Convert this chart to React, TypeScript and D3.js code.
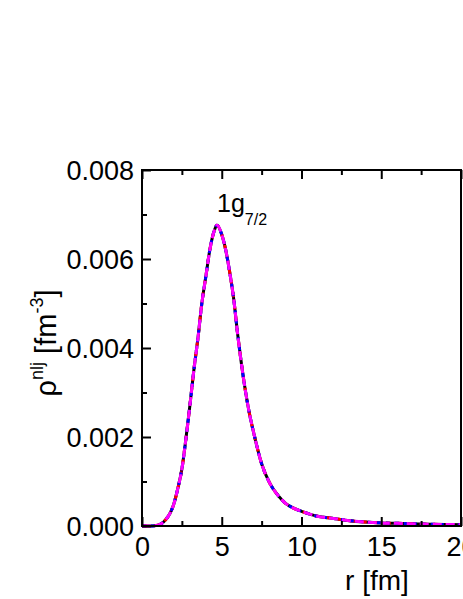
import * as d3 from "d3";
import { useEffect, useRef } from "react";

// radius grid [fm] and density of the 1g7/2 orbital [fm^-3]
const rValues = [
  0, 0.5, 1.0, 1.25, 1.5, 1.75, 2.0, 2.25, 2.5, 2.75, 3.0, 3.25, 3.5, 3.75, 4.0,
  4.25, 4.5, 4.7, 5.0, 5.25, 5.5, 5.75, 6.0, 6.25, 6.5, 6.75, 7.0, 7.5, 8.0, 8.5,
  9.0, 9.5, 10, 11, 12, 13, 14, 15, 16, 18, 20,
];
const rhoValues = [
  0, 0, 0.00002, 0.00006, 0.00015, 0.00028, 0.0005, 0.00085, 0.00128, 0.00195,
  0.0027, 0.0035, 0.0042, 0.005, 0.0056, 0.0062, 0.0066, 0.00676, 0.00655,
  0.0062, 0.0057, 0.0051, 0.0043, 0.0036, 0.003, 0.0025, 0.0021, 0.0014,
  0.00097, 0.0007, 0.00051, 0.0004, 0.00033, 0.00022, 0.00017, 0.00012,
  0.00009, 0.00007, 0.00006, 0.00004, 0.00003,
];

// drawn bottom to top
const seriesNames = ["solid", "red", "blue", "magenta"];
const seriesColors = ["#000000", "#ff0000", "#0000ff", "#ff00ff"];
const seriesDash = ["none", "5,7", "4,5", "9,4"];

const xTicks = [0, 5, 10, 15, 20];
const yTicks = [0, 0.002, 0.004, 0.006, 0.008];

const W = 463;
const H = 599;
const FONT = "Arial, 'Liberation Sans', sans-serif";

export default function App() {
  const svgRef = useRef<SVGSVGElement>(null);

  useEffect(() => {
    const svg = d3.select(svgRef.current);
    svg.selectAll("*").remove();

    const x = d3.scaleLinear().domain([0, 20]).range([142, 461]);
    const y = d3.scaleLinear().domain([0, 0.008]).range([526, 170]);

    const data = rValues.map((r, i) => [r, rhoValues[i]] as [number, number]);
    const line = d3
      .line<[number, number]>()
      .x((d) => x(d[0]))
      .y((d) => y(d[1]))
      .curve(d3.curveMonotoneX);

    seriesNames.forEach((name, i) => {
      svg
        .append("path")
        .datum(data)
        .attr("class", "series-" + name)
        .attr("d", line)
        .attr("fill", "none")
        .attr("stroke", seriesColors[i])
        .attr("stroke-width", 3)
        .attr("stroke-dasharray", seriesDash[i]);
    });

    // minor ticks
    const minorX = d3.range(2.5, 20, 5);
    const minorY = d3.range(0.001, 0.008, 0.002);

    const bottom = svg
      .append("g")
      .attr("transform", "translate(0,526)")
      .call(
        d3.axisBottom(x).tickValues(xTicks).tickSizeInner(-9).tickSizeOuter(0).tickPadding(11)
      );
    svg
      .append("g")
      .attr("transform", "translate(0,526)")
      .call(d3.axisBottom(x).tickValues(minorX).tickSizeInner(-5).tickSizeOuter(0).tickFormat(() => ""));

    svg
      .append("g")
      .attr("transform", "translate(0,170)")
      .call(d3.axisTop(x).tickValues(xTicks).tickSizeInner(-9).tickSizeOuter(0).tickFormat(() => ""));
    svg
      .append("g")
      .attr("transform", "translate(0,170)")
      .call(d3.axisTop(x).tickValues(minorX).tickSizeInner(-5).tickSizeOuter(0).tickFormat(() => ""));

    const left = svg
      .append("g")
      .attr("transform", "translate(142,0)")
      .call(
        d3
          .axisLeft(y)
          .tickValues(yTicks)
          .tickSizeInner(-9)
          .tickSizeOuter(0)
          .tickPadding(8)
          .tickFormat(d3.format(".3f"))
      );
    svg
      .append("g")
      .attr("transform", "translate(142,0)")
      .call(d3.axisLeft(y).tickValues(minorY).tickSizeInner(-5).tickSizeOuter(0).tickFormat(() => ""));

    svg.selectAll(".domain").remove();
    svg.selectAll(".tick line").attr("stroke", "#000").attr("stroke-width", 2);
    svg
      .selectAll(".tick text")
      .attr("fill", "#000")
      .style("font-family", FONT)
      .style("font-size", "27px");
    bottom.selectAll(".tick text").attr("dy", "0.71em");
    left.selectAll(".tick text").attr("dy", "0.36em");

    // frame
    svg
      .append("rect")
      .attr("x", 142)
      .attr("y", 170)
      .attr("width", 461 - 142)
      .attr("height", 526 - 170)
      .attr("fill", "none")
      .attr("stroke", "#000")
      .attr("stroke-width", 2);

    // axis titles
    svg
      .append("text")
      .attr("x", 377)
      .attr("y", 590)
      .attr("text-anchor", "middle")
      .style("font-family", FONT)
      .style("font-size", "28px")
      .text("r [fm]");

    const yt = svg
      .append("text")
      .attr("transform", "translate(56,343) rotate(-90)")
      .attr("text-anchor", "middle")
      .style("font-family", FONT)
      .style("font-size", "29px");
    yt.append("tspan").text("ρ");
    yt.append("tspan").attr("dy", -13).style("font-size", "18px").text("nlj");
    yt.append("tspan").attr("dy", 13).text(" [fm");
    yt.append("tspan").attr("dy", -13).style("font-size", "18px").text("-3");
    yt.append("tspan").attr("dy", 13).text("]");

    // orbital label
    const lab = svg
      .append("text")
      .attr("x", 217)
      .attr("y", 212)
      .style("font-family", FONT)
      .style("font-size", "25px");
    lab.append("tspan").text("1g");
    lab.append("tspan").attr("dy", 13).style("font-size", "16px").text("7/2");
  }, []);

  return (
    <svg
      ref={svgRef}
      width={W}
      height={H}
      style={{ position: "absolute", left: 0, top: 0, background: "#fff" }}
    />
  );
}
